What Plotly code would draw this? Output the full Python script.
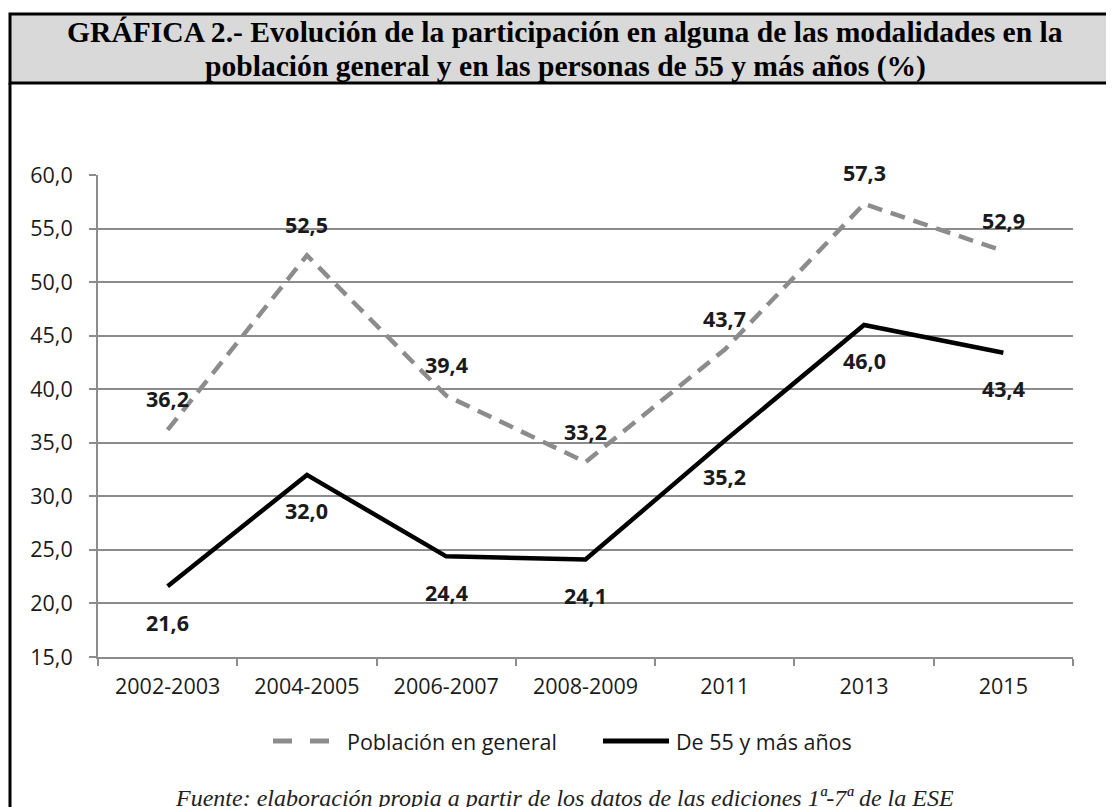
import plotly.graph_objects as go

categories = ["2002-2003", "2004-2005", "2006-2007", "2008-2009", "2011", "2013", "2015"]
poblacion_general = [36.2, 52.5, 39.4, 33.2, 43.7, 57.3, 52.9]
mayores_55 = [21.6, 32.0, 24.4, 24.1, 35.2, 46.0, 43.4]
y_ticks = [15, 20, 25, 30, 35, 40, 45, 50, 55, 60]

title_lines = ["GRÁFICA 2.- Evolución de la participación en alguna de las modalidades en la",
               "población general y en las personas de 55 y más años (%)"]
footer_text = "Fuente: elaboración propia a partir de los datos de las ediciones 1ª-7ª de la ESE"
legend_names = ["Población en general", "De 55 y más años"]

def fmt(v):
    return f"{v:.1f}".replace(".", ",")

GRAY = "#8c8c8c"
TXT = "#1a1a1a"
FONT = "Open Sans"

# page offset (body margin) and figure geometry in page pixels
OFF = 8
W, H = 1106, 799
L, R, T, B = 90, 1065, 167, 649

def px(x_img):
    return (x_img - OFF - L) / (R - L)

def py(y_img):
    return (B - (y_img - OFF)) / (B - T)

fig = go.Figure()
fig.add_trace(go.Scatter(x=categories, y=poblacion_general, mode="lines",
                         name=legend_names[0], showlegend=False,
                         line=dict(color=GRAY, width=4.5, dash="15px,9px")))
fig.add_trace(go.Scatter(x=categories, y=mayores_55, mode="lines",
                         name=legend_names[1], showlegend=False,
                         line=dict(color="black", width=4.5)))

annotations = []
lab_font = dict(family=FONT, size=21.5, color=TXT, weight="bold")
# category axis: annotations positioned by category index
for i, v in enumerate(poblacion_general):
    annotations.append(dict(x=i, y=v, xref="x", yref="y", text=fmt(v), showarrow=False,
                            yshift=31, font=lab_font))
for i, v in enumerate(mayores_55):
    annotations.append(dict(x=i, y=v, xref="x", yref="y", text=fmt(v), showarrow=False,
                            yshift=-36, font=lab_font))

# title (two lines)
for line, yy in zip(title_lines, [32, 67]):
    annotations.append(dict(x=px(565), y=py(yy), xref="paper", yref="paper",
                            xanchor="center", yanchor="middle", showarrow=False,
                            text="<b>" + line + "</b>",
                            font=dict(family="Liberation Serif", size=29.6, color="black")))
# footer
annotations.append(dict(x=px(564), y=py(798), xref="paper", yref="paper",
                        xanchor="center", yanchor="middle", showarrow=False,
                        text="<i>" + footer_text + "</i>",
                        font=dict(family="Liberation Serif", size=24, color="#222")))
# legend texts
leg_font = dict(family=FONT, size=21.5, color=TXT)
annotations.append(dict(x=px(345), y=py(741), xref="paper", yref="paper",
                        xanchor="left", yanchor="middle", showarrow=False,
                        text=legend_names[0], font=leg_font))
annotations.append(dict(x=px(674), y=py(741), xref="paper", yref="paper",
                        xanchor="left", yanchor="middle", showarrow=False,
                        text=legend_names[1], font=leg_font))

shapes = [
    # title box
    dict(type="rect", xref="paper", yref="paper",
         x0=px(10), x1=px(1120), y0=py(83), y1=py(14),
         fillcolor="#d9d9d9", line=dict(color="black", width=3), layer="below"),
    # outer frame left line
    dict(type="line", xref="paper", yref="paper",
         x0=px(10), x1=px(10), y0=py(83), y1=py(820),
         line=dict(color="black", width=3)),
    # legend samples
    dict(type="line", xref="paper", yref="paper", x0=px(273), x1=px(292), y0=py(741), y1=py(741),
         line=dict(color=GRAY, width=5)),
    dict(type="line", xref="paper", yref="paper", x0=px(310), x1=px(329), y0=py(741), y1=py(741),
         line=dict(color=GRAY, width=5)),
    dict(type="line", xref="paper", yref="paper", x0=px(603), x1=px(669), y0=py(741), y1=py(741),
         line=dict(color="black", width=5)),
]

fig.update_layout(
    width=W, height=H,
    margin=dict(l=L, r=W - R, t=T, b=H - B, autoexpand=False),
    paper_bgcolor="white", plot_bgcolor="white",
    showlegend=False,
    annotations=annotations,
    shapes=shapes,
    xaxis=dict(type="category", range=[-0.5, 6.5], showgrid=False,
               showline=True, linecolor=GRAY, linewidth=2,
               ticks="outside", ticklen=7, tickcolor=GRAY, tickwidth=2,
               tickson="boundaries", ticklabelstandoff=9,
               tickfont=dict(family=FONT, size=21.5, color=TXT)),
    yaxis=dict(range=[15, 60], tickvals=y_ticks, ticktext=[fmt(v) for v in y_ticks],
               showgrid=True, gridcolor=GRAY, gridwidth=2,
               showline=True, linecolor=GRAY, linewidth=2,
               ticks="outside", ticklen=7, tickcolor=GRAY, tickwidth=2,
               zeroline=False, ticklabelstandoff=12,
               tickfont=dict(family=FONT, size=21.5, color=TXT)),
)

fig.write_html("out.html")
